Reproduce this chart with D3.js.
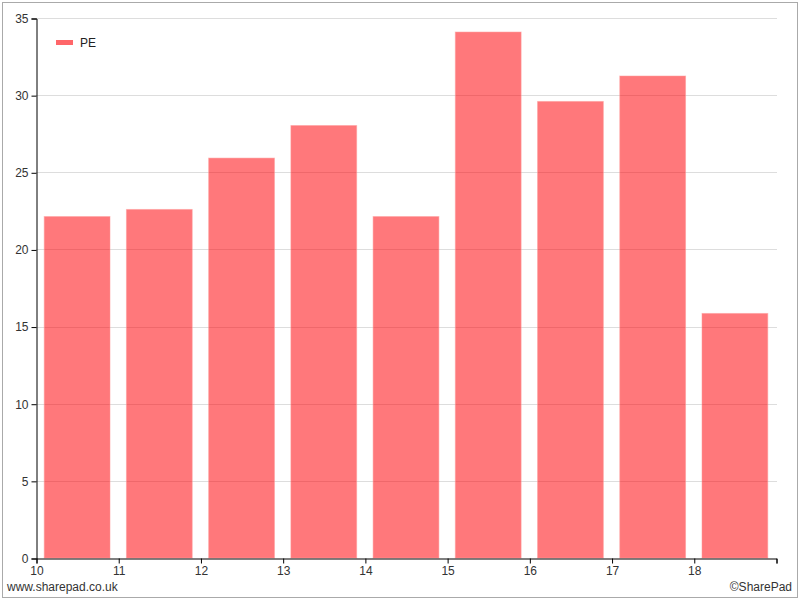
<!DOCTYPE html>
<html><head><meta charset="utf-8">
<script src="https://cdn.jsdelivr.net/npm/d3@7"></script>
<style>body{margin:0;background:#fff}svg{display:block;font-family:"Liberation Sans",Arial,sans-serif}</style>
</head><body><svg id="c" width="800" height="600"></svg>
<script>
const years = [10, 11, 12, 13, 14, 15, 16, 17, 18];
const peValues = [22.13, 22.59, 25.92, 28.03, 22.13, 34.09, 29.59, 31.24, 15.85];
const yTicks = [0, 5, 10, 15, 20, 25, 30, 35];
const xTicks = [10, 11, 12, 13, 14, 15, 16, 17, 18, 19];
const seriesName = "PE";

const svg = d3.select("#c");
svg.append("rect").attr("x", 2.5).attr("y", 2.5).attr("width", 795).attr("height", 595)
  .attr("fill", "#fff").attr("stroke", "#aaa").attr("stroke-width", 1);

const x = d3.scaleLinear().domain([10, 19]).range([36, 776]);
const y = d3.scaleLinear().domain([0, 35]).range([558, 18]);

// gridlines
svg.append("g").selectAll("line").data(yTicks.filter(d => d > 0)).join("line")
  .attr("x1", 36).attr("x2", 777)
  .attr("y1", d => Math.round(y(d)) + 0.5).attr("y2", d => Math.round(y(d)) + 0.5)
  .attr("stroke", "#dddddd").attr("stroke-width", 1);

// bars
svg.append("g").selectAll("rect").data(years).join("rect")
  .attr("x", (d) => x(d + 0.1))
  .attr("width", x(10.9) - x(10.1))
  .attr("y", (d, i) => y(peValues[i]))
  .attr("height", (d, i) => y(0) - y(peValues[i]))
  .attr("fill", "rgba(255,0,5,0.53)")
  .attr("stroke", "rgba(255,150,150,0.5)").attr("stroke-width", 1);

// axes
const yAxis = svg.append("g").attr("transform", "translate(36.5,0.5)")
  .call(d3.axisLeft(y).tickValues(yTicks).tickSize(5).tickPadding(3));
const xAxis = svg.append("g").attr("transform", "translate(0.5,558.5)")
  .call(d3.axisBottom(x).tickValues(xTicks).tickSize(5).tickPadding(3)
    .tickFormat(d => d === 19 ? "" : d));
[yAxis, xAxis].forEach(a => {
  a.selectAll("path").attr("stroke", "#000");
  a.selectAll("line").attr("stroke", "#000");
  a.selectAll("text").attr("fill", "#333").attr("font-size", 12)
    .attr("font-family", "'Liberation Sans',Arial,sans-serif");
});

// legend
svg.append("rect").attr("x", 56).attr("y", 40).attr("width", 17).attr("height", 5).attr("fill", "rgba(255,0,5,0.6)");
svg.append("text").attr("x", 80).attr("y", 47).attr("font-size", 12).attr("fill", "#222").text(seriesName);

// footer
svg.append("text").attr("x", 7).attr("y", 591).attr("font-size", 12).attr("fill", "#333").text("www.sharepad.co.uk");
svg.append("text").attr("x", 792).attr("y", 591).attr("font-size", 12).attr("fill", "#333")
  .attr("text-anchor", "end").text("©SharePad");
</script></body></html>
